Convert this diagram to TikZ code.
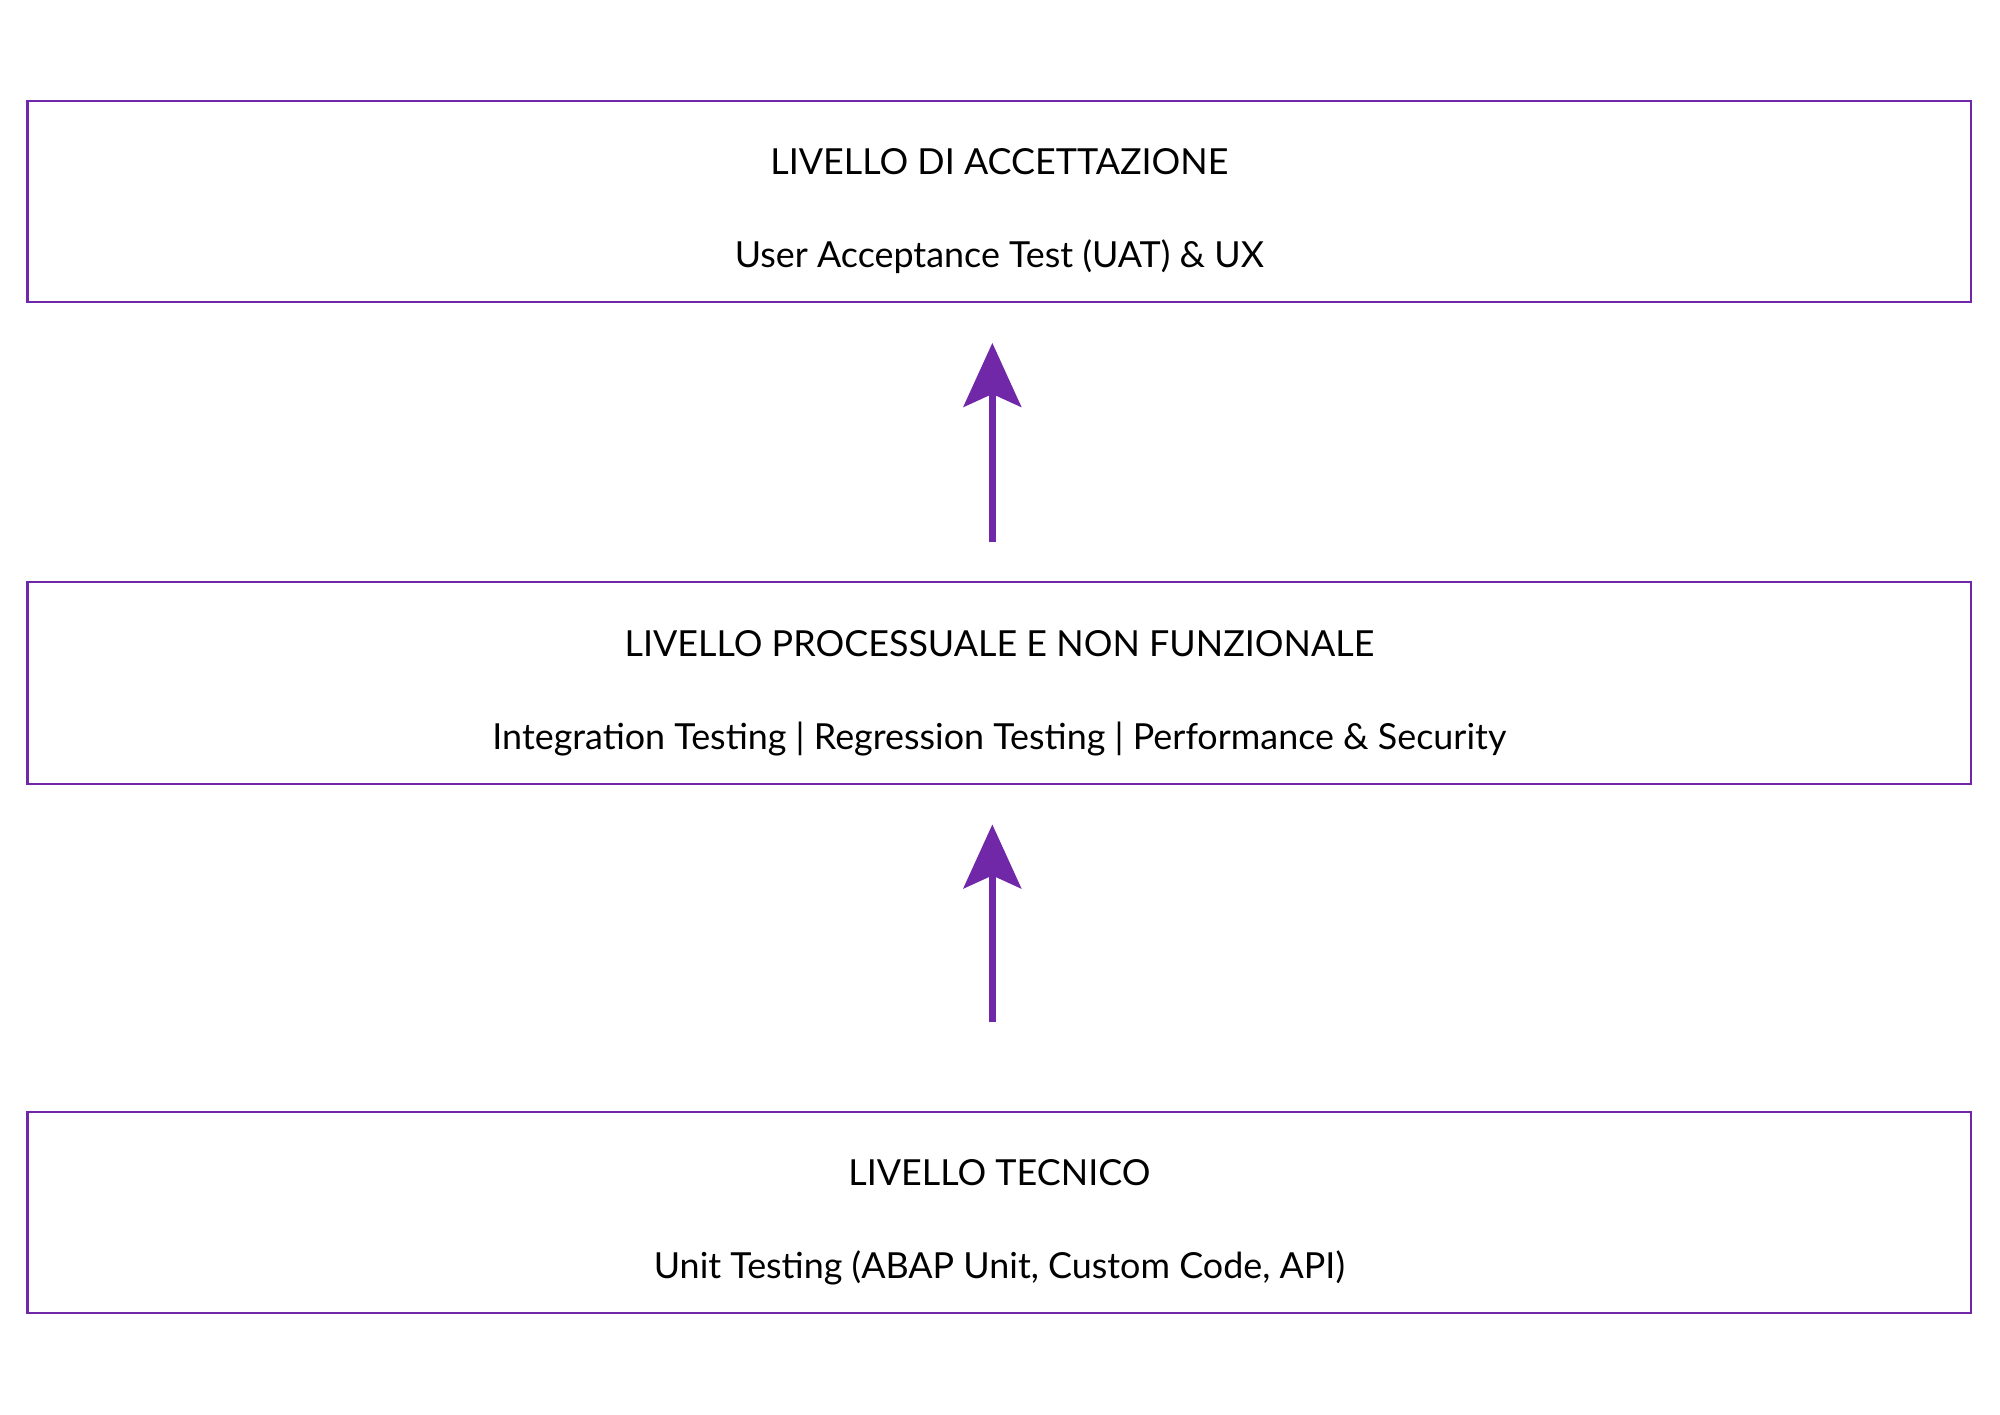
\documentclass[tikz,border=0pt]{standalone}
\usepackage{fontspec}
\setmainfont{Lato}
\usetikzlibrary{arrows.meta, positioning}
\definecolor{viola}{HTML}{7027A8}
\newcommand{\alzariga}{\rule{0pt}{0.36cm}}
\begin{document}
\begin{tikzpicture}[
                x=0.01cm, y=-0.01cm,
                livello/.style={rectangle, draw=viola, line width=0.45pt, minimum width=15.23cm, minimum height=1.58cm, align=center, inner sep=0pt, font=\fontsize{8}{20.7}\selectfont},
                freccia/.style={-{Stealth[length=0.5cm, width=0.45cm, inset=0.1cm]}, draw=viola, fill=viola, line width=1.7pt, shorten <=0.31cm, shorten >=0.31cm}
            ]
                \useasboundingbox (0,0) rectangle (1568,1109);
                % Livelli
                \node[livello] (acc) at (783.5,158) {\alzariga LIVELLO DI ACCETTAZIONE\\User Acceptance Test (UAT) \& UX};
                \node[livello] (proc) at (783.5,535.5) {\alzariga LIVELLO PROCESSUALE E NON FUNZIONALE\\Integration Testing | Regression Testing | Performance \& Security};
                \node[livello] (tec) at (783.5,950.5) {\alzariga LIVELLO TECNICO\\Unit Testing (ABAP Unit, Custom Code, API)};

                % Frecce
                \draw[freccia] ([xshift=-0.055cm]proc.north) -- ([xshift=-0.055cm]acc.south);
                \draw[freccia] ([xshift=-0.055cm,yshift=0.38cm]tec.north) -- ([xshift=-0.055cm]proc.south);
            \end{tikzpicture}
\end{document}
